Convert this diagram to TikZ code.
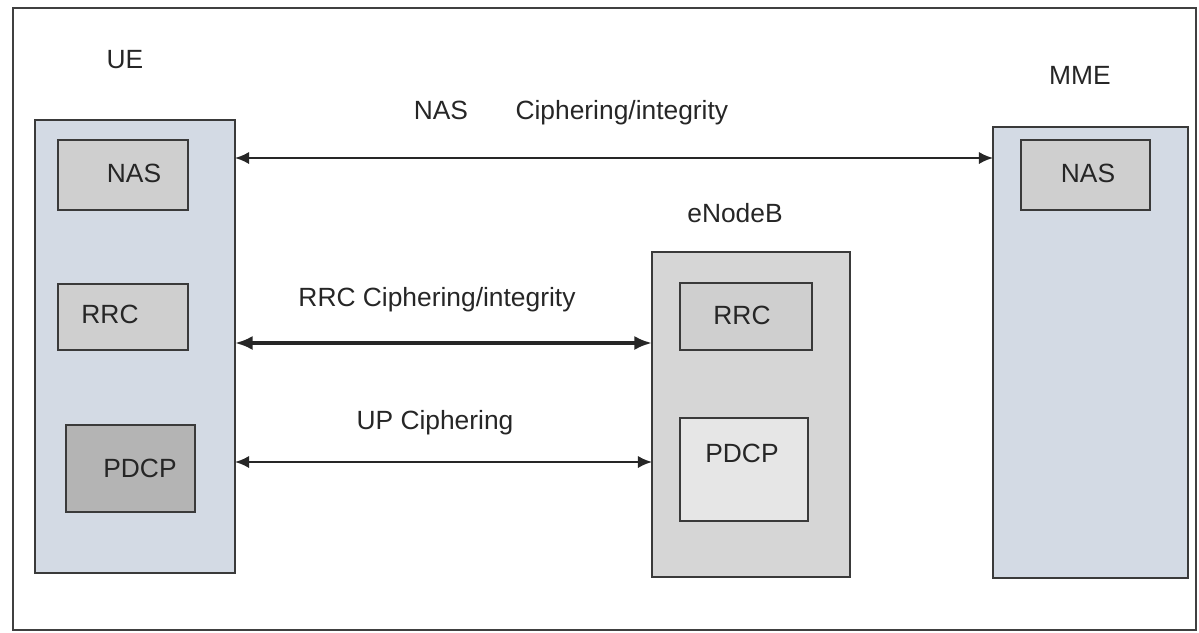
\documentclass[tikz,border=0pt]{standalone}
\usepackage{fontspec}
\setmainfont{Liberation Sans}
\usepackage{tikz}
\usetikzlibrary{arrows.meta}
\usetikzlibrary{calc}
\definecolor{entityfill}{HTML}{D3DAE4}
\definecolor{enbfill}{HTML}{D6D6D6}
\definecolor{layerfill}{HTML}{CFCFCF}
\definecolor{pdcpdark}{HTML}{B4B4B4}
\definecolor{pdcplight}{HTML}{E6E6E6}
\definecolor{edge}{HTML}{3A3A3A}

\begin{document}
\begin{tikzpicture}[x=0.01cm,y=-0.01cm,
	every node/.style={font=\fontsize{7.5}{9}\selectfont,text=black!85},
	entity/.style={draw=edge,line width=0.75pt},
	layer/.style={draw=edge,line width=0.75pt},
	link/.style={draw=black!85,line width=0.6pt,{Latex[length=4pt,width=3.5pt]}-{Latex[length=4pt,width=3.5pt]}},
	biglink/.style={draw=black!85,line width=1.3pt,{Latex[length=5pt,width=4pt]}-{Latex[length=5pt,width=4pt]}}]
	
	\useasboundingbox (0,0) rectangle (1199,633);
	\draw [black!75,line width=0.7pt] (13,8) rectangle (1196,630);
	
	% UE
	\draw [entity,fill=entityfill] (35,120) rectangle (235,573);
	\coordinate (ueR) at (235,0);
	\node (ue) at (125,60) {UE};
	\draw [layer,fill=layerfill] (58,140) rectangle (188,210);
	\node (uenas) at (134,173) {NAS};
	\draw [layer,fill=layerfill] (58,284) rectangle (188,350);
	\node (uerrc) at (110,314) {RRC};
	\draw [layer,fill=pdcpdark] (66,425) rectangle (195,512);
	\node (uepdcp) at (140,468) {PDCP};
	
	% eNodeB
	\draw [entity,fill=enbfill] (652,252) rectangle (850,577);
	\coordinate (enbL) at (652,0);
	\node (enb) at (735,213) {eNodeB};
	\draw [layer,fill=layerfill] (680,283) rectangle (812,350);
	\node (enbrrc) at (742,315) {RRC};
	\draw [layer,fill=pdcplight] (680,418) rectangle (808,521);
	\node (enbpdcp) at (742,453) {PDCP};
	
	% MME
	\draw [entity,fill=entityfill] (993,127) rectangle (1188,578);
	\coordinate (mmeL) at (993,0);
	\node (mme) at (1080,75) {MME};
	\draw [layer,fill=layerfill] (1021,140) rectangle (1150,210);
	\node (mmenas) at (1088,173) {NAS};
	
	% Security links
	\coordinate (a1) at (ueR |- 0,158);
	\coordinate (b1) at (mmeL |- 0,158);
	\draw [link] (a1) -- (b1);
	\node (naslbl) at (571,113) {NAS\hspace{1.8em}Ciphering/integrity};
	
	\coordinate (a2) at (ueR |- 0,343);
	\coordinate (b2) at (enbL |- 0,343);
	\draw [biglink] (a2) -- (b2);
	\node (rrclbl) at (437,300) {RRC Ciphering/integrity};
	
	\coordinate (a3) at (ueR |- 0,462);
	\coordinate (b3) at (enbL |- 0,462);
	\draw [link] (a3) -- (b3);
	\node (uplbl) at (435,423) {UP Ciphering};
	
\end{tikzpicture}
\end{document}
